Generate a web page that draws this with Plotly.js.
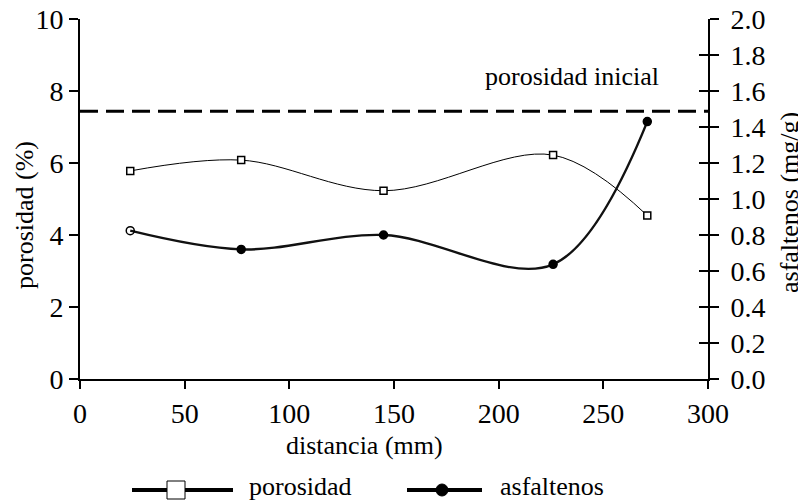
<!DOCTYPE html>
<html>
<head>
<meta charset="utf-8">
<script src="https://cdn.plot.ly/plotly-3.0.1.min.js"></script>
<style>html,body{margin:0;padding:0;background:#fff;}#chart{width:798px;height:500px;}</style>
</head>
<body>
<div id="chart"></div>
<script>
// Data
const distancia = [24, 77, 145, 226, 271];
const porosidad = [5.78, 6.08, 5.23, 6.22, 4.54];
const asfaltenos = [0.824, 0.72, 0.80, 0.637, 1.43];
const porosidadInicial = 7.44;
const xTicks = [0, 50, 100, 150, 200, 250, 300];
const yLeftTicks = [0, 2, 4, 6, 8, 10];
const yRightTicks = [0, 0.2, 0.4, 0.6, 0.8, 1.0, 1.2, 1.4, 1.6, 1.8, 2.0];

const FONT = '"Liberation Serif", serif';
const L = 80, R = 708, T = 19, B = 379;
const W = 798, H = 500;
const px = x => (x - L) / (R - L);
const py = y => (B - y) / (B - T);

const traces = [
  {
    x: distancia, y: porosidad, type: 'scatter', mode: 'lines+markers',
    line: {shape: 'spline', color: '#000', width: 1},
    marker: {symbol: 'square', size: 7, color: '#fff', line: {color: '#000', width: 1.5}},
    name: 'porosidad', yaxis: 'y', showlegend: false
  },
  {
    x: distancia, y: asfaltenos, type: 'scatter', mode: 'lines+markers',
    line: {shape: 'spline', color: '#111', width: 2.4},
    marker: {symbol: ['circle-open', 'circle', 'circle', 'circle', 'circle'], size: 8, color: '#000', line: {color: '#000', width: 1.5}},
    name: 'asfaltenos', yaxis: 'y2', showlegend: false
  },
  // invisible helper so the crossing-tick overlay axis is drawn
  {x: [distancia[0]], y: [asfaltenos[0]], yaxis: 'y3', mode: 'markers', marker: {opacity: 0}, showlegend: false, hoverinfo: 'skip'}
];

const tf = {family: FONT, size: 28, color: '#000'};
const af = {family: FONT, size: 26, color: '#000'};

const layout = {
  width: W, height: H,
  margin: {l: L, r: W - R, t: T, b: H - B, pad: 0},
  paper_bgcolor: '#fff', plot_bgcolor: '#fff',
  showlegend: false,
  font: {family: FONT, size: 26, color: '#000'},
  xaxis: {range: [0, 300], tickvals: xTicks, ticklen: 8, showgrid: false, zeroline: false, showline: true, linecolor: '#000', linewidth: 2, ticks: 'outside', tickcolor: '#000', tickwidth: 2, tickfont: tf},
  yaxis: {range: [0, 10], tickvals: yLeftTicks, ticklen: 9, showgrid: false, zeroline: false, showline: true, linecolor: '#000', linewidth: 2, ticks: 'outside', tickcolor: '#000', tickwidth: 2, tickfont: tf},
  yaxis2: {range: [0, 2], tickvals: yRightTicks, tickformat: '.1f', ticklen: 9, ticklabelstandoff: 6, overlaying: 'y', side: 'right', anchor: 'x', showgrid: false, zeroline: false, showline: true, linecolor: '#000', linewidth: 2, ticks: 'outside', tickcolor: '#000', tickwidth: 2, tickfont: tf},
  yaxis3: {range: [0, 2], tickvals: yRightTicks, overlaying: 'y', side: 'right', anchor: 'x', ticks: 'inside', ticklen: 9, tickwidth: 2, tickcolor: '#000', showticklabels: false, showline: false, showgrid: false, zeroline: false},
  shapes: [
    {type: 'line', xref: 'paper', x0: 0, x1: 1, yref: 'y', y0: porosidadInicial, y1: porosidadInicial,
     line: {color: '#000', width: 3, dash: '18px,8px'}},
    // legend: porosidad
    {type: 'line', xref: 'paper', yref: 'paper', x0: px(132), x1: px(233), y0: py(490), y1: py(490), line: {color: '#000', width: 4}},
    {type: 'rect', xref: 'paper', yref: 'paper', x0: px(167), x1: px(185), y0: py(481), y1: py(499), fillcolor: '#fff', line: {color: '#000', width: 1}},
    // legend: asfaltenos
    {type: 'line', xref: 'paper', yref: 'paper', x0: px(407), x1: px(482), y0: py(490), y1: py(490), line: {color: '#000', width: 4}},
    {type: 'circle', xref: 'paper', yref: 'paper', x0: px(436), x1: px(448), y0: py(484), y1: py(496), fillcolor: '#000', line: {color: '#000', width: 1}}
  ],
  annotations: [
    {text: 'porosidad inicial', xref: 'x', yref: 'y', x: 235, y: 8.39, xanchor: 'center', yanchor: 'middle', showarrow: false, font: af},
    {text: 'distancia (mm)', xref: 'paper', yref: 'paper', x: px(364), y: py(445), xanchor: 'center', yanchor: 'middle', showarrow: false, font: af},
    {text: 'porosidad (%)', xref: 'paper', yref: 'paper', x: px(24), y: py(215), xanchor: 'center', yanchor: 'middle', textangle: -90, showarrow: false, font: af},
    {text: 'asfaltenos (mg/g)', xref: 'paper', yref: 'paper', x: px(789), y: py(203), xanchor: 'center', yanchor: 'middle', textangle: -90, showarrow: false, font: af},
    {text: 'porosidad', xref: 'paper', yref: 'paper', x: px(247), y: py(486), xanchor: 'left', yanchor: 'middle', showarrow: false, font: af},
    {text: 'asfaltenos', xref: 'paper', yref: 'paper', x: px(498), y: py(486), xanchor: 'left', yanchor: 'middle', showarrow: false, font: af}
  ]
};

Plotly.newPlot('chart', traces, layout, {staticPlot: true, displayModeBar: false});
</script>
</body>
</html>
